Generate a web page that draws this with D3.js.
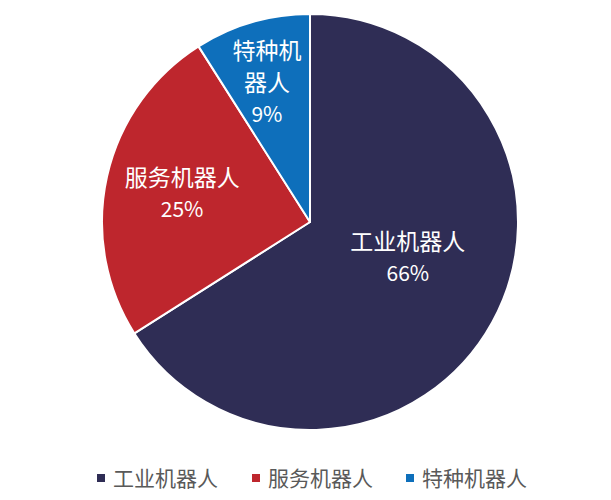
<!DOCTYPE html>
<html>
<head>
<meta charset="utf-8">
<script src="https://cdn.jsdelivr.net/npm/d3@7"></script>
<style>
  body { margin: 0; background: #fff; }
  text { font-family: "Noto Sans CJK SC", "Noto Sans", sans-serif; }
</style>
</head>
<body>
<div id="chart"></div>
<script>
// 数据
var categories = ['工业机器人', '服务机器人', '特种机器人']
var values = [66, 25, 9]
var colors = ['#2f2d55', '#be262d', '#0e6fbb']

var width = 611,
    height = 500,
    cx = 310,
    cy = 222,
    radius = 208

// 标签位置（按扇区调整半径和角度），换行字数
var labelRadius = [0.5, 0.63, 0.7]
var labelShift = [-9, 0, -1] // 度
var wrapChars = [0, 0, 3]

var svg = d3.select('#chart').append('svg').attr('width', width).attr('height', height)

var pieData = d3.pie().sort(null).value(d => d)(values)
var arc = d3.arc().innerRadius(0).outerRadius(radius)

var chart = svg.append('g').attr('transform', 'translate(' + cx + ',' + cy + ')')

chart.selectAll('path.slice')
  .data(pieData)
  .enter()
  .append('path')
  .classed('slice', true)
  .attr('d', arc)
  .attr('fill', (d, i) => colors[i])
  .attr('stroke', '#fff')
  .attr('stroke-width', 2)
  .attr('stroke-linejoin', 'round')

function splitName (name, n) {
  if (!n) return [name]
  var out = []
  for (var i = 0; i < name.length; i += n) out.push(name.slice(i, i + n))
  return out
}

var lineH = 32
pieData.forEach((d, i) => {
  var r = radius * labelRadius[i]
  var a = (d.startAngle + d.endAngle) / 2 + labelShift[i] * Math.PI / 180
  var c = [Math.sin(a) * r, -Math.cos(a) * r]
  var lines = splitName(categories[i], wrapChars[i])
  lines.push(values[i] + '%')
  var y0 = c[1] - (lines.length - 1) * lineH / 2
  var g = chart.append('g').classed('label', true)
  lines.forEach((t, k) => {
    var isPct = k === lines.length - 1
    g.append('text')
      .text(t)
      .attr('x', c[0])
      .attr('y', y0 + k * lineH)
      .attr('dy', '0.36em')
      .attr('text-anchor', 'middle')
      .attr('font-size', isPct ? 21 : 23)
      .attr('fill', '#fff')
  })
})

// 图例
var legendX = [97, 252, 406]
var legend = svg.append('g').classed('legend', true)
categories.forEach((name, i) => {
  legend.append('rect')
    .attr('x', legendX[i])
    .attr('y', 474)
    .attr('width', 8)
    .attr('height', 8)
    .attr('fill', colors[i])
  legend.append('text')
    .text(name)
    .attr('x', legendX[i] + 16)
    .attr('y', 478)
    .attr('dy', '0.36em')
    .attr('font-size', 21)
    .attr('fill', '#595959')
})
</script>
</body>
</html>
